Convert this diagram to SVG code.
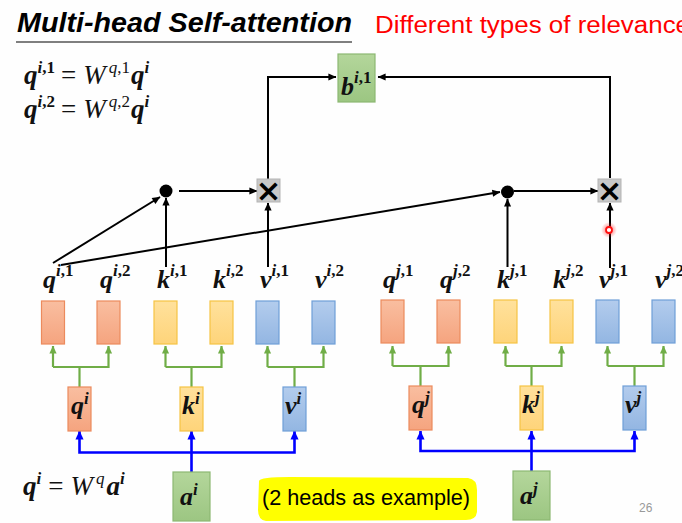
<svg xmlns="http://www.w3.org/2000/svg" width="682" height="523" viewBox="0 0 682 523">
<defs>
<style>
.vec{font-family:"Liberation Serif","DejaVu Serif",serif;font-weight:bold;font-style:italic;font-size:26px;fill:#111}
.fm{font-size:27px}
.sup{font-size:17px}
.up{font-style:normal}
.reg{font-weight:normal}
.blk{fill:none;stroke:#000;stroke-width:2}
.grn{fill:none;stroke:#70ad47;stroke-width:2.2}
.blu{fill:none;stroke:#0000ff;stroke-width:2.6}
.or{fill:url(#gO);stroke:#ec8a5d;stroke-width:1.2}
.ye{fill:url(#gY);stroke:#f5c444;stroke-width:1.2}
.bl{fill:url(#gB);stroke:#6f9fd8;stroke-width:1.2}
.gr{fill:url(#gG);stroke:#8cb872;stroke-width:1.2}
.mul{fill:#c8c8c8;stroke:#b4b4b4;stroke-width:1}
.x{font-family:"DejaVu Sans",sans-serif;font-weight:bold;font-size:31px;fill:#000;text-anchor:middle}
</style>
<linearGradient id="gO" x1="0" y1="0" x2="0" y2="1"><stop offset="0" stop-color="#f9bea0"/><stop offset="1" stop-color="#f5a47f"/></linearGradient>
<linearGradient id="gY" x1="0" y1="0" x2="0" y2="1"><stop offset="0" stop-color="#ffe19c"/><stop offset="1" stop-color="#fed47a"/></linearGradient>
<linearGradient id="gB" x1="0" y1="0" x2="0" y2="1"><stop offset="0" stop-color="#b3cced"/><stop offset="1" stop-color="#93b6e2"/></linearGradient>
<linearGradient id="gG" x1="0" y1="0" x2="0" y2="1"><stop offset="0" stop-color="#b4d69b"/><stop offset="1" stop-color="#9cc682"/></linearGradient>
<radialGradient id="glow"><stop offset="0" stop-color="#ff2020" stop-opacity="0.7"/><stop offset="1" stop-color="#ff2020" stop-opacity="0"/></radialGradient>
<marker id="ah" viewBox="0 0 10 10" refX="9.5" refY="5" markerWidth="9" markerHeight="8" orient="auto" markerUnits="userSpaceOnUse"><path d="M0,0.5 L10,5 L0,9.5 z" fill="#000"/></marker>
<marker id="ahg" viewBox="0 0 10 10" refX="9.5" refY="5" markerWidth="8" markerHeight="8" orient="auto" markerUnits="userSpaceOnUse"><path d="M0,0.5 L10,5 L0,9.5 z" fill="#70ad47"/></marker>
<marker id="ahb" viewBox="0 0 10 10" refX="9.5" refY="5" markerWidth="9" markerHeight="9" orient="auto" markerUnits="userSpaceOnUse"><path d="M0,0.5 L10,5 L0,9.5 z" fill="#0000ff"/></marker>
</defs>
<rect width="682" height="523" fill="#fefefe"/>

<g id="title">
<text x="17" y="32" font-family="'Liberation Sans',Arial,sans-serif" font-weight="bold" font-style="italic" font-size="28" fill="#000" textLength="335" lengthAdjust="spacingAndGlyphs">Multi-head Self-attention</text>
<line x1="16" y1="42" x2="352" y2="42" stroke="#555" stroke-width="1.5"/>
<text x="375" y="33" font-family="'Liberation Sans',Arial,sans-serif" font-size="23" fill="#ff0000" textLength="315" lengthAdjust="spacingAndGlyphs">Different types of relevance</text>
</g>

<g id="formulas">
<text class="vec fm" x="24" y="84">q<tspan class="sup" dy="-11">i</tspan><tspan class="sup up">,1</tspan><tspan class="reg up" dx="6" dy="11">=</tspan><tspan class="reg" dx="7">W</tspan><tspan class="sup reg" dx="3" dy="-11">q</tspan><tspan class="sup reg up">,1</tspan><tspan dx="1" dy="11">q</tspan><tspan class="sup" dy="-11">i</tspan></text>
<text class="vec fm" x="24" y="118">q<tspan class="sup" dy="-11">i</tspan><tspan class="sup up">,2</tspan><tspan class="reg up" dx="6" dy="11">=</tspan><tspan class="reg" dx="7">W</tspan><tspan class="sup reg" dx="3" dy="-11">q</tspan><tspan class="sup reg up">,2</tspan><tspan dx="1" dy="11">q</tspan><tspan class="sup" dy="-11">i</tspan></text>
<text class="vec fm" x="23" y="495">q<tspan class="sup" dy="-11">i</tspan><tspan class="reg up" dx="7" dy="11">=</tspan><tspan class="reg" dx="7">W</tspan><tspan class="sup reg" dx="3" dy="-11">q</tspan><tspan dx="2" dy="11">a</tspan><tspan class="sup" dy="-11">i</tspan></text>
</g>

<g id="connectors">
<polyline class="blk" points="268,179 268,77 336,77" marker-end="url(#ah)"/>
<polyline class="blk" points="610,178 610,77 378,77" marker-end="url(#ah)"/>
<line class="blk" x1="179" y1="191" x2="257" y2="191" marker-end="url(#ah)"/>
<line class="blk" x1="514" y1="191" x2="598" y2="191" marker-end="url(#ah)"/>
<line class="blk" x1="53" y1="263" x2="160" y2="197" marker-end="url(#ah)"/>
<line class="blk" x1="61" y1="265" x2="500" y2="192" marker-end="url(#ah)"/>
<line class="blk" x1="166" y1="267" x2="166" y2="198" marker-end="url(#ah)"/>
<line class="blk" x1="268" y1="267" x2="268" y2="203" marker-end="url(#ah)"/>
<line class="blk" x1="507.5" y1="267" x2="507.5" y2="199" marker-end="url(#ah)"/>
<line class="blk" x1="610" y1="268" x2="610" y2="203" marker-end="url(#ah)"/>
<polyline class="grn" points="79.5,387 79.5,367"/><polyline class="grn" points="53,367 53,346" marker-end="url(#ahg)"/><polyline class="grn" points="53,367 108.5,367 108.5,346" marker-end="url(#ahg)"/>
<polyline class="grn" points="191.5,387 191.5,367"/><polyline class="grn" points="165.5,367 165.5,346" marker-end="url(#ahg)"/><polyline class="grn" points="165.5,367 221.5,367 221.5,346" marker-end="url(#ahg)"/>
<polyline class="grn" points="294.5,387 294.5,367"/><polyline class="grn" points="267.5,367 267.5,346" marker-end="url(#ahg)"/><polyline class="grn" points="267.5,367 323.5,367 323.5,346" marker-end="url(#ahg)"/>
<polyline class="grn" points="420.5,387 420.5,366"/><polyline class="grn" points="392.5,366 392.5,346" marker-end="url(#ahg)"/><polyline class="grn" points="392.5,366 448.5,366 448.5,346" marker-end="url(#ahg)"/>
<polyline class="grn" points="531.5,387 531.5,366"/><polyline class="grn" points="505.5,366 505.5,346" marker-end="url(#ahg)"/><polyline class="grn" points="505.5,366 561.5,366 561.5,346" marker-end="url(#ahg)"/>
<polyline class="grn" points="634.5,387 634.5,366"/><polyline class="grn" points="607.5,366 607.5,346" marker-end="url(#ahg)"/><polyline class="grn" points="607.5,366 663.5,366 663.5,346" marker-end="url(#ahg)"/>
<line class="blu" x1="191.5" y1="472" x2="191.5" y2="431" marker-end="url(#ahb)"/>
<polyline class="blu" points="191.5,452.5 79.5,452.5 79.5,431" marker-end="url(#ahb)"/>
<polyline class="blu" points="191.5,452.5 294.5,452.5 294.5,431" marker-end="url(#ahb)"/>
<line class="blu" x1="531.5" y1="471" x2="531.5" y2="431" marker-end="url(#ahb)"/>
<polyline class="blu" points="531.5,451 420.5,451 420.5,431" marker-end="url(#ahb)"/>
<polyline class="blu" points="531.5,451 634.5,451 634.5,431" marker-end="url(#ahb)"/>
</g>

<g id="b-i1"><rect class="gr" x="338" y="54" width="37" height="48"/><text class="vec" x="341" y="95">b<tspan class="sup" dy="-12">i</tspan><tspan class="sup up">,1</tspan></text></g>
<g id="dot1"><circle cx="166" cy="191" r="6.5" fill="#000"/></g>
<g id="dot2"><circle cx="507.5" cy="192" r="6.5" fill="#000"/></g>
<g id="mul1"><rect class="mul" x="257" y="179" width="23" height="23"/><text class="x" x="268.5" y="201">×</text></g>
<g id="mul2"><rect class="mul" x="598" y="179" width="23" height="23"/><text class="x" x="609.5" y="201">×</text></g>

<g id="heads-i">
<g id="q-i1"><text class="vec" x="43" y="288">q<tspan class="sup" dy="-12">i</tspan><tspan class="sup up">,1</tspan></text><rect class="or" x="41.5" y="301" width="23" height="43"/></g>
<g id="q-i2"><text class="vec" x="100" y="288">q<tspan class="sup" dy="-12">i</tspan><tspan class="sup up">,2</tspan></text><rect class="or" x="97" y="301" width="23" height="43"/></g>
<g id="k-i1"><text class="vec" x="157" y="288">k<tspan class="sup" dy="-12">i</tspan><tspan class="sup up">,1</tspan></text><rect class="ye" x="154" y="301" width="23" height="43"/></g>
<g id="k-i2"><text class="vec" x="213" y="288">k<tspan class="sup" dy="-12">i</tspan><tspan class="sup up">,2</tspan></text><rect class="ye" x="210" y="301" width="23" height="43"/></g>
<g id="v-i1"><text class="vec" x="260" y="288">v<tspan class="sup" dy="-12">i</tspan><tspan class="sup up">,1</tspan></text><rect class="bl" x="256" y="301" width="23" height="43"/></g>
<g id="v-i2"><text class="vec" x="315" y="288">v<tspan class="sup" dy="-12">i</tspan><tspan class="sup up">,2</tspan></text><rect class="bl" x="312" y="301" width="23" height="43"/></g>
</g>
<g id="heads-j">
<g id="q-j1"><text class="vec" x="383" y="288">q<tspan class="sup" dy="-12">j</tspan><tspan class="sup up">,1</tspan></text><rect class="or" x="381" y="300" width="23" height="43"/></g>
<g id="q-j2"><text class="vec" x="440" y="288">q<tspan class="sup" dy="-12">j</tspan><tspan class="sup up">,2</tspan></text><rect class="or" x="437" y="300" width="23" height="43"/></g>
<g id="k-j1"><text class="vec" x="497" y="288">k<tspan class="sup" dy="-12">j</tspan><tspan class="sup up">,1</tspan></text><rect class="ye" x="494" y="300" width="23" height="43"/></g>
<g id="k-j2"><text class="vec" x="553" y="288">k<tspan class="sup" dy="-12">j</tspan><tspan class="sup up">,2</tspan></text><rect class="ye" x="550" y="300" width="23" height="43"/></g>
<g id="v-j1"><text class="vec" x="599" y="288">v<tspan class="sup" dy="-12">j</tspan><tspan class="sup up">,1</tspan></text><rect class="bl" x="596" y="300" width="23" height="43"/></g>
<g id="v-j2"><text class="vec" x="655" y="288">v<tspan class="sup" dy="-12">j</tspan><tspan class="sup up">,2</tspan></text><rect class="bl" x="652" y="300" width="23" height="43"/></g>
</g>

<g id="qi"><rect class="or" x="68" y="387" width="23" height="44"/><text class="vec" x="71" y="414">q<tspan class="sup" dy="-10">i</tspan></text></g>
<g id="ki"><rect class="ye" x="180" y="387" width="23" height="44"/><text class="vec" x="182" y="414">k<tspan class="sup" dy="-10">i</tspan></text></g>
<g id="vi"><rect class="bl" x="283" y="387" width="23" height="44"/><text class="vec" x="285" y="414">v<tspan class="sup" dy="-10">i</tspan></text></g>
<g id="qj"><rect class="or" x="409" y="386" width="23" height="44"/><text class="vec" x="412" y="413">q<tspan class="sup" dy="-10">j</tspan></text></g>
<g id="kj"><rect class="ye" x="520" y="386" width="23" height="44"/><text class="vec" x="522" y="413">k<tspan class="sup" dy="-10">j</tspan></text></g>
<g id="vj"><rect class="bl" x="623" y="386" width="23" height="44"/><text class="vec" x="625" y="413">v<tspan class="sup" dy="-10">j</tspan></text></g>

<g id="ai"><rect class="gr" x="173" y="472" width="37" height="49"/><text class="vec" x="180" y="505">a<tspan class="sup" dy="-10">i</tspan></text></g>
<g id="aj"><rect class="gr" x="513" y="471" width="37" height="49"/><text class="vec" x="520" y="504">a<tspan class="sup" dy="-10">j</tspan></text></g>

<g id="note">
<path d="M259,481 Q260,477 290,477 L468,478 Q477,479 477,490 L477,512 Q476,520 466,520 L266,521 Q258,520 258,510 Z" fill="#ffff00"/>
<text x="262" y="505" font-family="'Liberation Sans',Arial,sans-serif" font-size="22" fill="#000" textLength="208" lengthAdjust="spacingAndGlyphs">(2 heads as example)</text>
</g>

<g id="pointer"><circle cx="609" cy="230" r="8" fill="url(#glow)"/><circle cx="609" cy="230" r="3" fill="#fff" stroke="#ff1010" stroke-width="1.8"/></g>
<text x="639" y="512" font-family="'Liberation Sans',Arial,sans-serif" font-size="12" fill="#999">26</text>
</svg>
